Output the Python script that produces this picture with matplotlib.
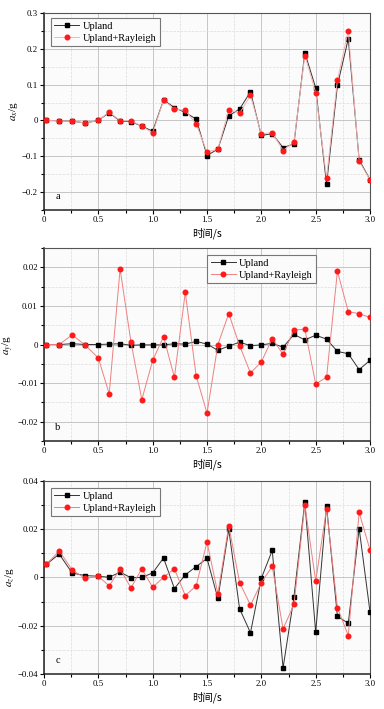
import numpy as np
import matplotlib
matplotlib.use('Agg')
import matplotlib.pyplot as plt
from matplotlib.ticker import MultipleLocator, FuncFormatter

plt.rcParams['font.family'] = ['Liberation Serif', 'Noto Sans CJK SC', 'DejaVu Sans']
plt.rcParams['mathtext.fontset'] = 'stix'
plt.rcParams['axes.unicode_minus'] = True

t = [0.02, 0.14, 0.26, 0.38, 0.5, 0.6, 0.7, 0.8, 0.9, 1.0, 1.1, 1.2, 1.3, 1.4, 1.5,
     1.6, 1.7, 1.8, 1.9, 2.0, 2.1, 2.2, 2.3, 2.4, 2.5, 2.6, 2.7, 2.8, 2.9, 3.0]

ax_upland = [0, -0.001, -0.002, -0.007, 0, 0.022, -0.002, -0.003, -0.016, -0.030,
             0.057, 0.036, 0.022, 0.004, -0.098, -0.080, 0.013, 0.032, 0.080, -0.042,
             -0.037, -0.076, -0.065, 0.189, 0.091, -0.178, 0.098, 0.228, -0.110, -0.165]
ax_rayleigh = [0, -0.001, -0.002, -0.007, 0, 0.024, -0.001, -0.001, -0.016, -0.035,
               0.056, 0.032, 0.028, -0.010, -0.088, -0.080, 0.030, 0.020, 0.070, -0.038,
               -0.034, -0.084, -0.060, 0.181, 0.078, -0.160, 0.113, 0.251, -0.114, -0.166]

ay_upland = [0, 0, 0.0002, 0, 0, 0.0001, 0.0002, -0.0002, -0.0001, -0.0001,
             -0.0001, 0.0002, 0.0001, 0.0008, 0.0001, -0.0015, -0.0004, 0.0006, -0.0003, -0.0001,
             0.0003, -0.0007, 0.0026, 0.0012, 0.0024, 0.0014, -0.0018, -0.0024, -0.0065, -0.0041]
ay_rayleigh = [0, 0, 0.0025, -0.0002, -0.0035, -0.0128, 0.0196, 0.0007, -0.0143, -0.0041,
               0.0020, -0.0085, 0.0135, -0.0081, -0.0178, 0, 0.0080, -0.0003, -0.0074, -0.0045,
               0.0015, -0.0025, 0.0037, 0.0040, -0.0102, -0.0085, 0.0190, 0.0085, 0.0080, 0.0070]

az_upland = [0.0054, 0.0097, 0.0018, 0.0008, 0.0005, 0.0001, 0.0022, -0.0001, 0, 0.0019,
             0.0081, -0.0046, 0.0011, 0.0045, 0.0079, -0.0087, 0.0199, -0.0130, -0.0229, -0.0003,
             0.0112, -0.0375, -0.0081, 0.0313, -0.0227, 0.0296, -0.0161, -0.0190, 0.0203, -0.0143]
az_rayleigh = [0.0054, 0.0110, 0.0031, -0.0004, 0.0005, -0.0035, 0.0035, -0.0043, 0.0036, -0.0041,
               0.0001, 0.0036, -0.0075, -0.0035, 0.0147, -0.0067, 0.0214, -0.0021, -0.0115, -0.0021,
               0.0046, -0.0213, -0.0112, 0.0301, -0.0015, 0.0285, -0.0125, -0.0241, 0.0270, 0.0114]

# letter, y label, series, ylim, major step, legend anchor, red line colour
panels = [
    ('a', r'$a_x$/g', ax_upland, ax_rayleigh, (-0.25, 0.3), 0.1, (0.02, 0.975), '#f7b4b4'),
    ('b', r'$a_y$/g', ay_upland, ay_rayleigh, (-0.025, 0.025), 0.01, (0.50, 0.965), '#ee8080'),
    ('c', r'$a_z$/g', az_upland, az_rayleigh, (-0.04, 0.04), 0.02, (0.02, 0.965), '#ee8080'),
]

fig = plt.figure(figsize=(3.84, 7.09), dpi=100)
positions = [[0.1146, 0.7038, 0.849, 0.2779],
             [0.1146, 0.378, 0.849, 0.2722],
             [0.1146, 0.0494, 0.849, 0.2722]]


def fmt_y(v, pos):
    if abs(v) < 1e-12:
        return '0'
    s = ('%.2f' % v).rstrip('0')
    if s.endswith('.'):
        s = s[:-1]
    return s.replace('-', '\u2212')


def fmt_x(v, pos):
    if abs(v) < 1e-12:
        return '0'
    return '%.1f' % v


for (letter, ylab, up, ray, ylim, ystep, anchor, rcol), pos in zip(panels, positions):
    ax = fig.add_axes(pos)
    ax.set_facecolor('#fbfbfb')
    ax.plot(t, up, '-s', color='#333333', lw=0.7, ms=3.0, mfc='black', mec='black',
            label='Upland', zorder=3)
    ax.plot(t, ray, '-o', color=rcol, lw=0.7, ms=3.3, mfc='#ff1a1a', mec='#ff1a1a',
            label='Upland+Rayleigh', zorder=4)
    ax.set_xlim(0, 3.0)
    ax.set_ylim(*ylim)
    ax.xaxis.set_major_locator(MultipleLocator(0.5))
    ax.xaxis.set_minor_locator(MultipleLocator(0.25))
    ax.yaxis.set_major_locator(MultipleLocator(ystep))
    ax.yaxis.set_minor_locator(MultipleLocator(ystep / 2))
    ax.xaxis.set_major_formatter(FuncFormatter(fmt_x))
    ax.yaxis.set_major_formatter(FuncFormatter(fmt_y))
    ax.grid(which='major', color='#bdbdbd', lw=0.6, ls='-')
    ax.grid(which='minor', color='#dcdcdc', lw=0.5, ls='--')
    ax.set_axisbelow(True)
    ax.tick_params(which='both', direction='out', top=False, right=False,
                   labelsize=6.3, width=0.8, pad=1.5)
    ax.tick_params(which='major', length=3)
    ax.tick_params(which='minor', length=2)
    for side in ['left', 'bottom']:
        ax.spines[side].set_linewidth(1.1)
        ax.spines[side].set_color('#222222')
    for side in ['top', 'right']:
        ax.spines[side].set_linewidth(0.8)
        ax.spines[side].set_color('#555555')
    ax.set_xlabel('时间/s', fontsize=7.5, family=['Noto Sans CJK SC', 'Liberation Serif'],
                  labelpad=2)
    ax.set_ylabel(ylab, fontsize=8, labelpad=1)
    ax.text(0.035, 0.07, letter, transform=ax.transAxes, fontsize=7.5,
            ha='left', va='center')
    leg = ax.legend(loc='upper left', bbox_to_anchor=anchor, fontsize=7.5, frameon=True,
                    fancybox=False, handlelength=2.4, borderpad=0.35, labelspacing=0.25,
                    handletextpad=0.3, borderaxespad=0.0)
    leg.get_frame().set_edgecolor('#777777')
    leg.get_frame().set_linewidth(0.8)
    leg.get_frame().set_facecolor('#fbfbfb')
    leg.get_frame().set_alpha(1.0)

fig.savefig('out.png', dpi=100, facecolor='white')
